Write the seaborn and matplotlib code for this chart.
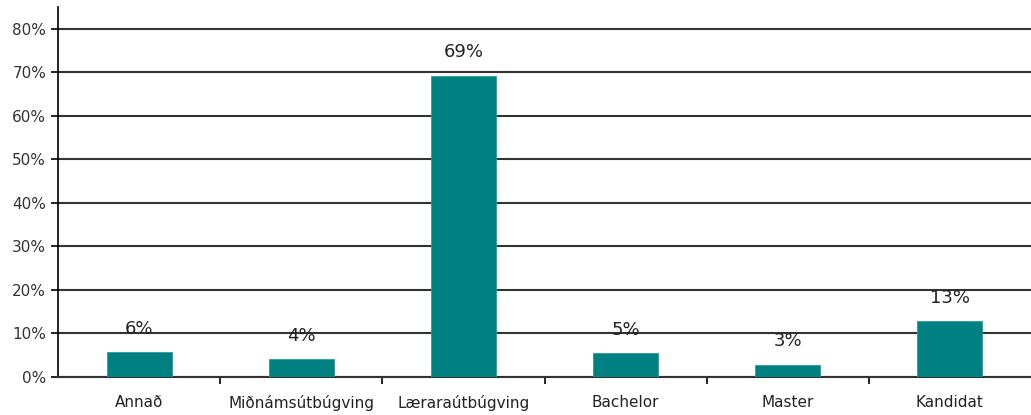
import numpy as np
import pandas as pd
import matplotlib
matplotlib.use("Agg")
import matplotlib.pyplot as plt
import seaborn as sns
from matplotlib.ticker import PercentFormatter, FixedLocator

# data
categories = ["Annað", "Miðnámsútbúgving", "Læraraútbúgving", "Bachelor", "Master", "Kandidat"]
shares = [0.057, 0.041, 0.692, 0.055, 0.028, 0.128]
labels = ["6%", "4%", "69%", "5%", "3%", "13%"]

df = pd.DataFrame({"Útbúgving": categories, "Partur": shares})

sns.set_theme(style="white")
plt.rcParams["font.family"] = ["DejaVu Sans"]

fig, ax = plt.subplots(figsize=(10.31, 4.15), dpi=100)
fig.subplots_adjust(left=0.0563, right=1.0, bottom=0.0916, top=0.983)

sns.barplot(data=df, x="Útbúgving", y="Partur", color="#008080",
            saturation=1, width=0.4, ax=ax, zorder=3,
            edgecolor="#2a9a9a", linewidth=0.6)

# value labels sit a bit above each bar
for i, (v, lab) in enumerate(zip(shares, labels)):
    ax.text(i, v + 0.033, lab, ha="center", va="bottom", fontsize=13,
            color="#222222", zorder=4)

ax.set_ylim(0, 0.85)
ax.set_xlim(-0.5, 5.5)
ax.set_yticks(np.arange(0, 0.81, 0.1))
ax.yaxis.set_major_formatter(PercentFormatter(1.0, decimals=0))
ax.yaxis.grid(True, color="#333333", linewidth=1.5)
ax.set_axisbelow(True)
ax.set_xlabel("")
ax.set_ylabel("")

ax.tick_params(axis="x", which="major", length=0, labelsize=11, pad=13, labelcolor="#222222")
ax.xaxis.set_minor_locator(FixedLocator(np.arange(0.5, 5.5, 1)))
ax.tick_params(axis="x", which="minor", bottom=True, length=5, width=1.2, color="black")
ax.tick_params(axis="y", left=True, length=5, width=1.2, color="black",
               labelsize=11, labelcolor="#333333")

for side in ["top", "right"]:
    ax.spines[side].set_visible(False)
ax.spines["left"].set_color("black")
ax.spines["left"].set_linewidth(1.2)
ax.spines["bottom"].set_color("#333333")
ax.spines["bottom"].set_linewidth(1.5)

fig.savefig("out.png", dpi=100)
